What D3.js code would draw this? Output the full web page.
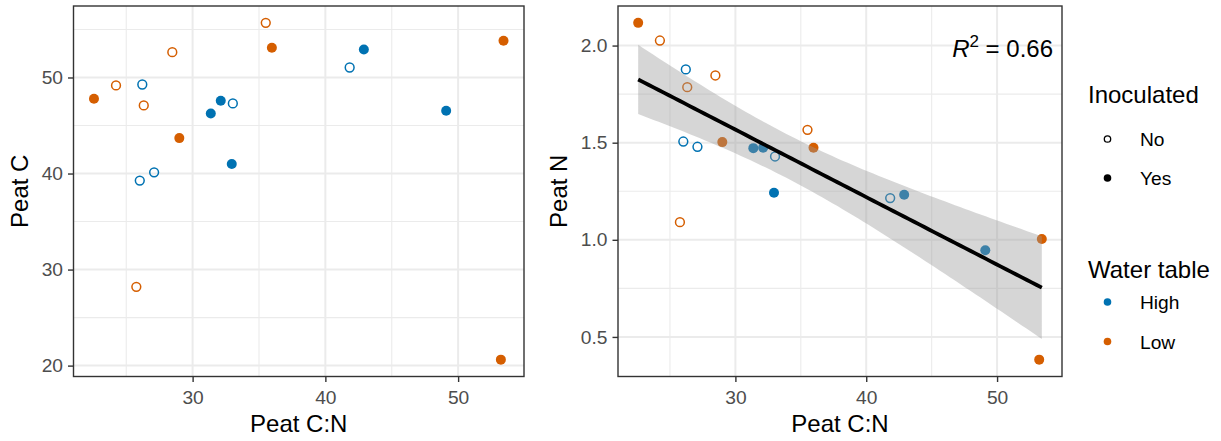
<!DOCTYPE html>
<html>
<head>
<meta charset="utf-8">
<script src="https://cdn.jsdelivr.net/npm/d3@7"></script>
<style>
  html, body { margin: 0; padding: 0; background: #fff; }
  text { font-family: "Liberation Sans", Arial, Helvetica, sans-serif; }
</style>
</head>
<body>
<svg id="chart" width="1221" height="441"></svg>
<script>
// ---- data ----
const peatCN = [22.57, 24.23, 26.21, 28.47, 26.32, 26.02, 27.10, 29.00, 31.37, 32.12,
                33.03, 32.95, 25.76, 35.51, 35.97, 41.83, 42.90, 49.10, 53.42, 53.22];
const peatC  = [47.78, 49.17, 49.27, 52.64, 47.09, 39.27, 40.13, 43.69, 46.25, 47.58,
                47.30, 41.00, 28.20, 55.69, 53.09, 51.04, 52.91, 46.53, 53.82, 20.62];
const peatN  = [2.117, 2.026, 1.877, 1.846, 1.786, 1.506, 1.479, 1.503, 1.472, 1.474,
                1.429, 1.242, 1.091, 1.566, 1.474, 1.215, 1.232, 0.946, 1.004, 0.383];
const inoculated = ["Yes","No","No","No","No","No","No","Yes","Yes","Yes",
                    "No","Yes","No","No","Yes","No","Yes","Yes","Yes","Yes"];
const waterTable = ["Low","Low","High","Low","Low","High","High","Low","High","High",
                    "High","High","Low","Low","Low","High","High","High","Low","Low"];
const xTicks = [30, 40, 50];
const xMinor = [25, 35, 45];
const yTicksC = [20, 30, 40, 50];
const yMinorC = [25, 35, 45, 55];
const yTicksN = [0.5, 1.0, 1.5, 2.0];
const yMinorN = [0.75, 1.25, 1.75];
const inocLevels = ["No", "Yes"];
const waterLevels = ["High", "Low"];
const r2Label = "0.66";

const svg = d3.select("#chart");
const colour = d3.scaleOrdinal().domain(waterLevels).range(["#0072B2", "#D55E00"]);

const points = peatCN.map((cn, i) => ({cn, c: peatC[i], n: peatN[i], inoc: inoculated[i], water: waterTable[i]}));

function expand(ext, f = 0.05) { const d = ext[1] - ext[0]; return [ext[0] - d * f, ext[1] + d * f]; }

const panelTop = 6, panelBottom = 376.5;
const panels = [
  {x0: 73.5, x1: 524, yKey: "c", yTicks: yTicksC, yMinor: yMinorC, yTitle: "Peat C", fmt: d3.format("d"), titleX: 28, smooth: false},
  {x0: 618, x1: 1062, yKey: "n", yTicks: yTicksN, yMinor: yMinorN, yTitle: "Peat N", fmt: d3.format(".1f"), titleX: 566.5, smooth: true}
];

panels.forEach(p => {
  const x = d3.scaleLinear().domain(expand(d3.extent(peatCN))).range([p.x0, p.x1]);
  const y = d3.scaleLinear().domain(expand(d3.extent(points, d => d[p.yKey]))).range([panelBottom, panelTop]);
  const g = svg.append("g");

  // grid
  g.selectAll(".xminor").data(xMinor).join("line")
    .attr("x1", d => x(d)).attr("x2", d => x(d)).attr("y1", panelTop).attr("y2", panelBottom)
    .attr("stroke", "#EBEBEB").attr("stroke-width", 1.1);
  g.selectAll(".yminor").data(p.yMinor).join("line")
    .attr("x1", p.x0).attr("x2", p.x1).attr("y1", d => y(d)).attr("y2", d => y(d))
    .attr("stroke", "#EBEBEB").attr("stroke-width", 1.1);
  g.selectAll(".xmajor").data(xTicks).join("line")
    .attr("x1", d => x(d)).attr("x2", d => x(d)).attr("y1", panelTop).attr("y2", panelBottom)
    .attr("stroke", "#EBEBEB").attr("stroke-width", 2);
  g.selectAll(".ymajor").data(p.yTicks).join("line")
    .attr("x1", p.x0).attr("x2", p.x1).attr("y1", d => y(d)).attr("y2", d => y(d))
    .attr("stroke", "#EBEBEB").attr("stroke-width", 2);

  // points
  g.selectAll(".pt").data(points).join("circle")
    .attr("cx", d => x(d.cn)).attr("cy", d => y(d[p.yKey]))
    .attr("r", d => d.inoc === "Yes" ? 5 : 4.4)
    .attr("fill", d => d.inoc === "Yes" ? colour(d.water) : "none")
    .attr("stroke", d => colour(d.water))
    .attr("stroke-width", d => d.inoc === "Yes" ? 0 : 1.5);

  // smooth (lm with 95% CI)
  if (p.smooth) {
    const xs = points.map(d => d.cn), ys = points.map(d => d.n);
    const nObs = xs.length;
    const mx = d3.mean(xs), my = d3.mean(ys);
    const sxx = d3.sum(xs, v => (v - mx) ** 2);
    const sxy = d3.sum(xs.map((v, i) => (v - mx) * (ys[i] - my)));
    const b = sxy / sxx, a = my - b * mx;
    const rss = d3.sum(xs.map((v, i) => (ys[i] - (a + b * v)) ** 2));
    const s = Math.sqrt(rss / (nObs - 2));
    const tq = 2.100922; // t(0.975, 18)
    const ext = d3.extent(xs);
    const grid = d3.range(80).map(i => ext[0] + (ext[1] - ext[0]) * i / 79);
    const band = grid.map(v => {
      const fit = a + b * v;
      const se = s * Math.sqrt(1 / nObs + (v - mx) ** 2 / sxx);
      return {x: v, fit, lo: fit - tq * se, hi: fit + tq * se};
    });
    g.append("path").datum(band)
      .attr("d", d3.area().x(d => x(d.x)).y0(d => y(d.lo)).y1(d => y(d.hi)))
      .attr("fill", "#999999").attr("fill-opacity", 0.4);
    g.append("path").datum(band)
      .attr("d", d3.line().x(d => x(d.x)).y(d => y(d.fit)))
      .attr("fill", "none").attr("stroke", "#000").attr("stroke-width", 3.8);

    const t = g.append("text").attr("x", p.x1 - 9).attr("y", 57)
      .attr("text-anchor", "end").attr("font-size", 24).attr("fill", "#000");
    t.append("tspan").attr("font-style", "italic").text("R");
    t.append("tspan").attr("font-size", 17).attr("dy", -10).text("2");
    t.append("tspan").attr("dy", 10).text(" = " + r2Label);
  }

  // border
  g.append("rect").attr("x", p.x0).attr("y", panelTop).attr("width", p.x1 - p.x0).attr("height", panelBottom - panelTop)
    .attr("fill", "none").attr("stroke", "#333333").attr("stroke-width", 1.4);

  // x axis
  const xa = g.append("g").attr("transform", `translate(0,${panelBottom})`)
    .call(d3.axisBottom(x).tickValues(xTicks).tickSize(5.5).tickPadding(8).tickFormat(d3.format("d")));
  xa.select(".domain").remove();
  xa.selectAll(".tick line").attr("stroke", "#333333").attr("stroke-width", 1.4);
  xa.selectAll(".tick text").attr("fill", "#4D4D4D").attr("font-size", 19.2)
    .attr("font-family", "Liberation Sans, Arial, sans-serif");

  // y axis
  const ya = g.append("g").attr("transform", `translate(${p.x0},0)`)
    .call(d3.axisLeft(y).tickValues(p.yTicks).tickSize(5.5).tickPadding(5).tickFormat(p.fmt));
  ya.select(".domain").remove();
  ya.selectAll(".tick line").attr("stroke", "#333333").attr("stroke-width", 1.4);
  ya.selectAll(".tick text").attr("fill", "#4D4D4D").attr("font-size", 19.2)
    .attr("font-family", "Liberation Sans, Arial, sans-serif");

  // titles
  g.append("text").attr("x", (p.x0 + p.x1) / 2).attr("y", 431.5).attr("text-anchor", "middle")
    .attr("font-size", 24).attr("fill", "#000").text("Peat C:N");
  g.append("text").attr("transform", `translate(${p.titleX},${(panelTop + panelBottom) / 2}) rotate(-90)`)
    .attr("text-anchor", "middle").attr("font-size", 24).attr("fill", "#000").text(p.yTitle);
});

// ---- legends ----
const lg = svg.append("g");
lg.append("text").attr("x", 1088).attr("y", 103).attr("font-size", 24).attr("fill", "#000").text("Inoculated");
const inocY = [139, 178];
inocLevels.forEach((lv, i) => {
  lg.append("circle").attr("cx", 1107.5).attr("cy", inocY[i]).attr("r", lv === "Yes" ? 3.8 : 3.2)
    .attr("fill", lv === "Yes" ? "#000" : "none").attr("stroke", "#000").attr("stroke-width", lv === "Yes" ? 0 : 1.3);
  lg.append("text").attr("x", 1140).attr("y", inocY[i] + 7).attr("font-size", 19.2).attr("fill", "#000").text(lv);
});
lg.append("text").attr("x", 1088).attr("y", 278).attr("font-size", 24).attr("fill", "#000").text("Water table");
const waterY = [302, 341.5];
waterLevels.forEach((lv, i) => {
  lg.append("circle").attr("cx", 1107.5).attr("cy", waterY[i]).attr("r", 3.8).attr("fill", colour(lv));
  lg.append("text").attr("x", 1140).attr("y", waterY[i] + 7).attr("font-size", 19.2).attr("fill", "#000").text(lv);
});
</script>
</body>
</html>
